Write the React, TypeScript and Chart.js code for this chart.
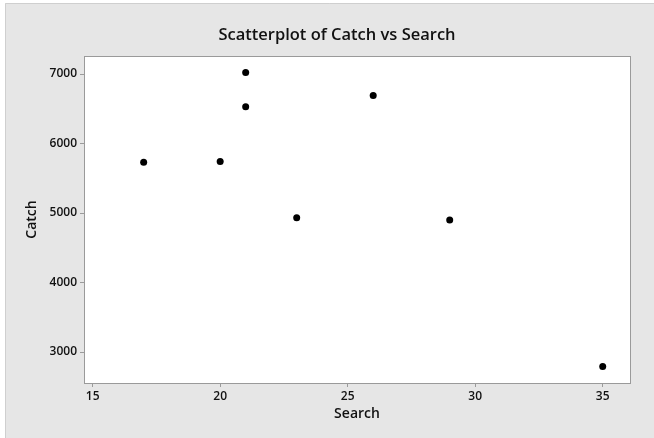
import React, { useEffect, useRef } from "react";
import { Chart, registerables } from "chart.js";

Chart.register(...registerables);

const searchValues: number[] = [17, 20, 21, 21, 23, 26, 29, 35];
const catchValues: number[] = [5730, 5740, 7020, 6530, 4930, 6690, 4900, 2790];
const xTicks: number[] = [15, 20, 25, 30, 35];
const yTicks: number[] = [3000, 4000, 5000, 6000, 7000];
const chartTitle = "Scatterplot of Catch vs Search";
const xTitle = "Search";
const yTitle = "Catch";

const FONT = "'Open Sans', 'DejaVu Sans', sans-serif";

const framePlugin = {
  id: "frame",
  beforeDraw(chart: any) {
    const { ctx, width, height, chartArea } = chart;
    ctx.save();
    ctx.fillStyle = "#ffffff";
    ctx.fillRect(0, 0, width, height);
    ctx.fillStyle = "#e6e6e6";
    ctx.fillRect(5, 3, width - 5, height - 3);
    ctx.strokeStyle = "#cfcfcf";
    ctx.lineWidth = 1;
    ctx.beginPath();
    ctx.moveTo(5.5, height);
    ctx.lineTo(5.5, 3.5);
    ctx.lineTo(width, 3.5);
    ctx.stroke();
    ctx.fillStyle = "#ffffff";
    ctx.fillRect(chartArea.left, chartArea.top, chartArea.right - chartArea.left, chartArea.bottom - chartArea.top);
    ctx.restore();
  },
  afterDraw(chart: any) {
    const { ctx, chartArea } = chart;
    ctx.save();
    ctx.strokeStyle = "#9a9a9a";
    ctx.lineWidth = 1;
    ctx.strokeRect(
      Math.round(chartArea.left) + 0.5,
      Math.round(chartArea.top) + 0.5,
      Math.round(chartArea.right - chartArea.left),
      Math.round(chartArea.bottom - chartArea.top)
    );
    ctx.fillStyle = "#111111";
    ctx.textAlign = "center";
    ctx.textBaseline = "middle";
    ctx.font = `600 16.5px ${FONT}`;
    ctx.fillText(chartTitle, 337, 35);
    ctx.font = `600 14px ${FONT}`;
    ctx.fillText(xTitle, (chartArea.left + chartArea.right) / 2, 414);
    ctx.translate(32, (chartArea.top + chartArea.bottom) / 2);
    ctx.rotate(-Math.PI / 2);
    ctx.fillText(yTitle, 0, 0);
    ctx.restore();
  },
};

export default function App() {
  const canvasRef = useRef<HTMLCanvasElement | null>(null);

  useEffect(() => {
    document.body.style.margin = "0";
    const canvas = canvasRef.current;
    if (!canvas) return;
    const points = searchValues.map((x, i) => ({ x, y: catchValues[i] }));
    const chart = new Chart(canvas, {
      type: "scatter",
      data: {
        datasets: [
          {
            data: points,
            backgroundColor: "#000000",
            borderColor: "#000000",
            pointRadius: 3.5,
            pointHoverRadius: 3.5,
            borderWidth: 0,
          },
        ],
      },
      options: {
        responsive: false,
        animation: false,
        devicePixelRatio: 1,
        layout: { padding: { left: 0, top: 56, right: 24, bottom: 0 } },
        plugins: {
          legend: { display: false },
          tooltip: { enabled: false },
          title: { display: false },
        },
        scales: {
          x: {
            type: "linear",
            min: 14.66,
            max: 36.07,
            afterFit(scale: any) {
              scale.height = 55;
            },
            afterBuildTicks(scale: any) {
              scale.ticks = xTicks.map((v) => ({ value: v }));
            },
            grid: {
              display: true,
              drawOnChartArea: false,
              drawTicks: true,
              tickLength: 4,
              color: "#9a9a9a",
            },
            border: { display: true, color: "#9a9a9a" },
            ticks: {
              color: "#111111",
              padding: 2,
              maxRotation: 0,
              font: { family: FONT, size: 12, weight: "600" },
            },
          },
          y: {
            type: "linear",
            min: 2554,
            max: 7259,
            afterFit(scale: any) {
              scale.width = 84;
            },
            afterBuildTicks(scale: any) {
              scale.ticks = yTicks.map((v) => ({ value: v }));
            },
            grid: {
              display: true,
              drawOnChartArea: false,
              drawTicks: true,
              tickLength: 4,
              color: "#9a9a9a",
            },
            border: { display: true, color: "#9a9a9a" },
            ticks: {
              color: "#111111",
              padding: 3,
              font: { family: FONT, size: 12, weight: "600" },
              callback: (v: any) => String(v),
            },
          },
        },
      },
      plugins: [framePlugin],
    });
    return () => chart.destroy();
  }, []);

  return (
    <div style={{ width: 654, height: 438 }}>
      <canvas ref={canvasRef} width={654} height={438} style={{ display: "block", width: 654, height: 438 }} />
    </div>
  );
}
